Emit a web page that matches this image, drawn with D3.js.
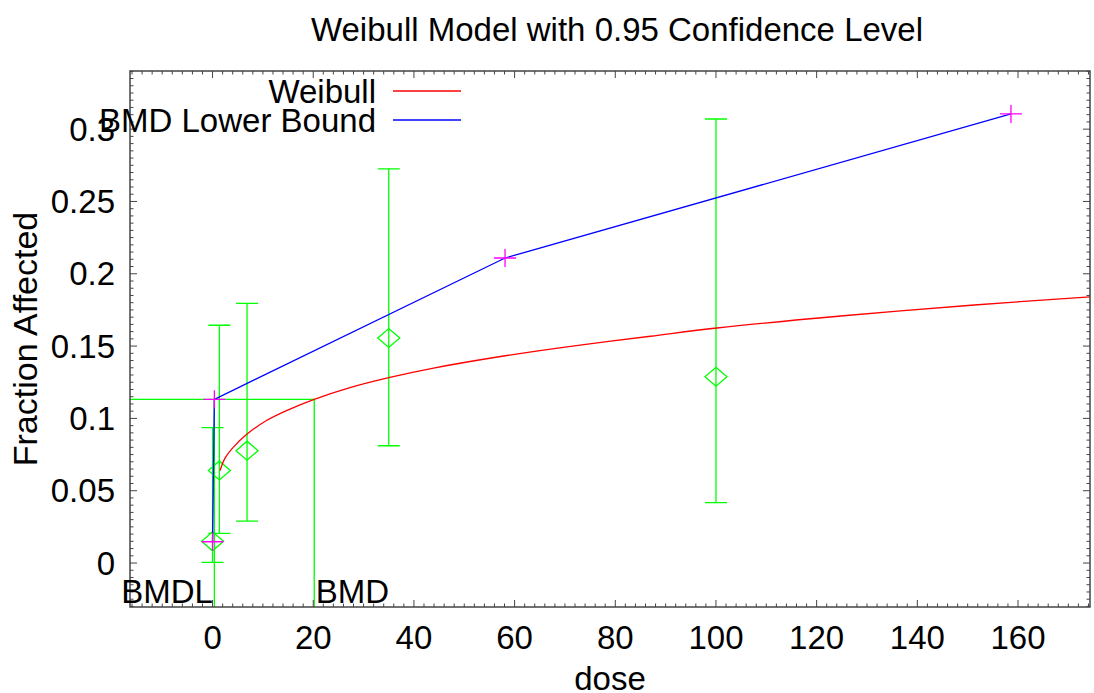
<!DOCTYPE html>
<html>
<head>
<meta charset="utf-8">
<script src="https://cdn.jsdelivr.net/npm/d3@7"></script>
<style>
  html, body { margin: 0; padding: 0; background: #fff; }
  svg { display: block; font-family: "Liberation Sans", Arial, sans-serif; }
</style>
</head>
<body>
<div id="chart"></div>
<script>
// observed dose groups with their confidence limits
const doses = [0, 1.35, 6.85, 35, 100];
const observed = [0.0150, 0.0640, 0.0777, 0.1556, 0.1288];
const lowerLimits = [0.0005, 0.0205, 0.0290, 0.0811, 0.0417];
const upperLimits = [0.0936, 0.1644, 0.1796, 0.2725, 0.3070];

// fitted weibull curve
const curveDose = [1.49, 2.48, 4.1, 6.8, 10.8, 14.8, 20.2, 27.3, 35, 43.9, 57.2, 70.4, 87, 100.2, 124.8, 151.3, 174.3];
const curveFrac = [0.0640, 0.0725, 0.0800, 0.0890, 0.0987, 0.1056, 0.1132, 0.1213, 0.1282, 0.1348, 0.1428, 0.1495, 0.1568, 0.1625, 0.1708, 0.1784, 0.1840];

// lower bound line and its markers
const boundDose = [0, 0.36, 58.1, 158.6];
const boundFrac = [0.0147, 0.1132, 0.2109, 0.3105];

const bmr = 0.1132;
const bmd = 20.2;
const bmdl = 0.36;

const xTicks = [0, 20, 40, 60, 80, 100, 120, 140, 160];
const yTicks = [0, 0.05, 0.1, 0.15, 0.2, 0.25, 0.3];
const legendLabels = ['Weibull', 'BMD Lower Bound'];

const width = 1094;
const height = 693;
const margin = {top: 71, right: 4, bottom: 86, left: 130};
const fontSize = 33;

const svg = d3.select('#chart').append('svg')
  .attr('width', width)
  .attr('height', height);

const x = d3.scaleLinear().domain([-16.4, 174.3]).range([margin.left, width - margin.right]);
const y = d3.scaleLinear().domain([-0.0304, 0.3402]).range([height - margin.bottom, margin.top]);

const [x0, x1] = x.range();
const [y0, y1] = y.range();

svg.append('clipPath').attr('id', 'plot-clip')
  .append('rect').attr('x', x0).attr('y', y1).attr('width', x1 - x0).attr('height', y0 - y1);

const green = '#00ff00';
const plot = svg.append('g').attr('clip-path', 'url(#plot-clip)');

// bmr / bmd / bmdl guide lines
plot.append('path')
  .attr('d', `M${x0},${y(bmr)}H${x(bmd)}V${y0}M${x(bmdl)},${y(bmr)}V${y0}`)
  .attr('fill', 'none').attr('stroke', green).attr('stroke-width', 1.3);

// error bars
const capHalf = 11;
doses.forEach((d, i) => {
  const cx = x(d);
  plot.append('path')
    .attr('d', `M${cx},${y(lowerLimits[i])}V${y(upperLimits[i])}` +
      `M${cx - capHalf},${y(lowerLimits[i])}H${cx + capHalf}` +
      `M${cx - capHalf},${y(upperLimits[i])}H${cx + capHalf}`)
    .attr('fill', 'none').attr('stroke', green).attr('stroke-width', 1.3);
});

// diamonds at observed fractions
plot.selectAll('path.obs').data(doses).join('path')
  .attr('class', 'obs')
  .attr('d', (d, i) => {
    const cx = x(d), cy = y(observed[i]);
    return `M${cx - 11},${cy}L${cx},${cy - 9.5}L${cx + 11},${cy}L${cx},${cy + 9.5}Z`;
  })
  .attr('fill', 'none').attr('stroke', green).attr('stroke-width', 1.3);

// weibull fit
const fitLine = d3.line().x((d) => x(d[0])).y((d) => y(d[1])).curve(d3.curveCatmullRom.alpha(0.5));
plot.append('path')
  .datum(d3.zip(curveDose, curveFrac))
  .attr('d', fitLine)
  .attr('fill', 'none').attr('stroke', '#ff0000').attr('stroke-width', 1.3);

// lower bound
const boundLine = d3.line().x((d) => x(d[0])).y((d) => y(d[1]));
plot.append('path')
  .datum(d3.zip(boundDose, boundFrac))
  .attr('d', boundLine)
  .attr('fill', 'none').attr('stroke', '#0000ff').attr('stroke-width', 1.3);

plot.selectAll('path.plus').data(boundDose).join('path')
  .attr('class', 'plus')
  .attr('d', (d, i) => {
    const cx = x(d), cy = y(boundFrac[i]);
    return `M${cx - 11},${cy}H${cx + 11}M${cx},${cy - 9}V${cy + 9}`;
  })
  .attr('fill', 'none').attr('stroke', '#ff00ff').attr('stroke-width', 1.3);

// frame with inward ticks on all four sides
const axisColor = '#444';
const minorX = d3.range(-16, 175, 2);
const minorY = d3.range(-30, 341, 5).map((v) => v / 1000);
const frame = svg.append('g').attr('stroke', axisColor).attr('fill', 'none');

let tickPath = '';
minorX.forEach((v) => {
  const len = xTicks.includes(v) ? 7 : 3.5;
  tickPath += `M${x(v)},${y0}v${-len}M${x(v)},${y1}v${len}`;
});
minorY.forEach((v) => {
  const major = yTicks.some((t) => Math.abs(t - v) < 1e-6);
  const len = major ? 7 : 3.5;
  tickPath += `M${x0},${y(v)}h${len}M${x1},${y(v)}h${-len}`;
});
frame.append('path').attr('d', tickPath).attr('stroke-width', 1);
frame.append('rect')
  .attr('x', x0).attr('y', y1).attr('width', x1 - x0).attr('height', y0 - y1)
  .attr('stroke-width', 1.5);

// tick labels
svg.append('g').selectAll('text').data(xTicks).join('text')
  .attr('x', (d) => x(d))
  .attr('y', 649)
  .attr('text-anchor', 'middle')
  .attr('font-size', fontSize)
  .text((d) => d);

svg.append('g').selectAll('text').data(yTicks).join('text')
  .attr('x', 115)
  .attr('y', (d) => y(d))
  .attr('dy', '0.35em')
  .attr('text-anchor', 'end')
  .attr('font-size', fontSize)
  .text((d) => d3.format('~g')(d));

// bmd markers text
svg.append('text')
  .attr('x', x(bmdl) - 1.5).attr('y', 603)
  .attr('text-anchor', 'end').attr('font-size', fontSize)
  .text('BMDL');
svg.append('text')
  .attr('x', x(bmd) + 1.5).attr('y', 603)
  .attr('font-size', fontSize)
  .text('BMD');

// legend
const legendColors = ['#ff0000', '#0000ff'];
legendLabels.forEach((label, i) => {
  const ly = 103 + i * 29;
  svg.append('text')
    .attr('x', 376).attr('y', ly)
    .attr('text-anchor', 'end').attr('font-size', fontSize)
    .text(label);
  svg.append('line')
    .attr('x1', 393).attr('x2', 461)
    .attr('y1', ly - 12).attr('y2', ly - 12)
    .attr('stroke', legendColors[i]).attr('stroke-width', 1.3);
});

// titles
svg.append('text')
  .attr('x', 617).attr('y', 41)
  .attr('text-anchor', 'middle').attr('font-size', fontSize)
  .text('Weibull Model with 0.95 Confidence Level');

svg.append('text')
  .attr('x', (x0 + x1) / 2).attr('y', 690)
  .attr('text-anchor', 'middle').attr('font-size', fontSize)
  .text('dose');

svg.append('text')
  .attr('transform', `translate(37,${(y0 + y1) / 2}) rotate(-90)`)
  .attr('text-anchor', 'middle').attr('font-size', 34)
  .text('Fraction Affected');
</script>
</body>
</html>
